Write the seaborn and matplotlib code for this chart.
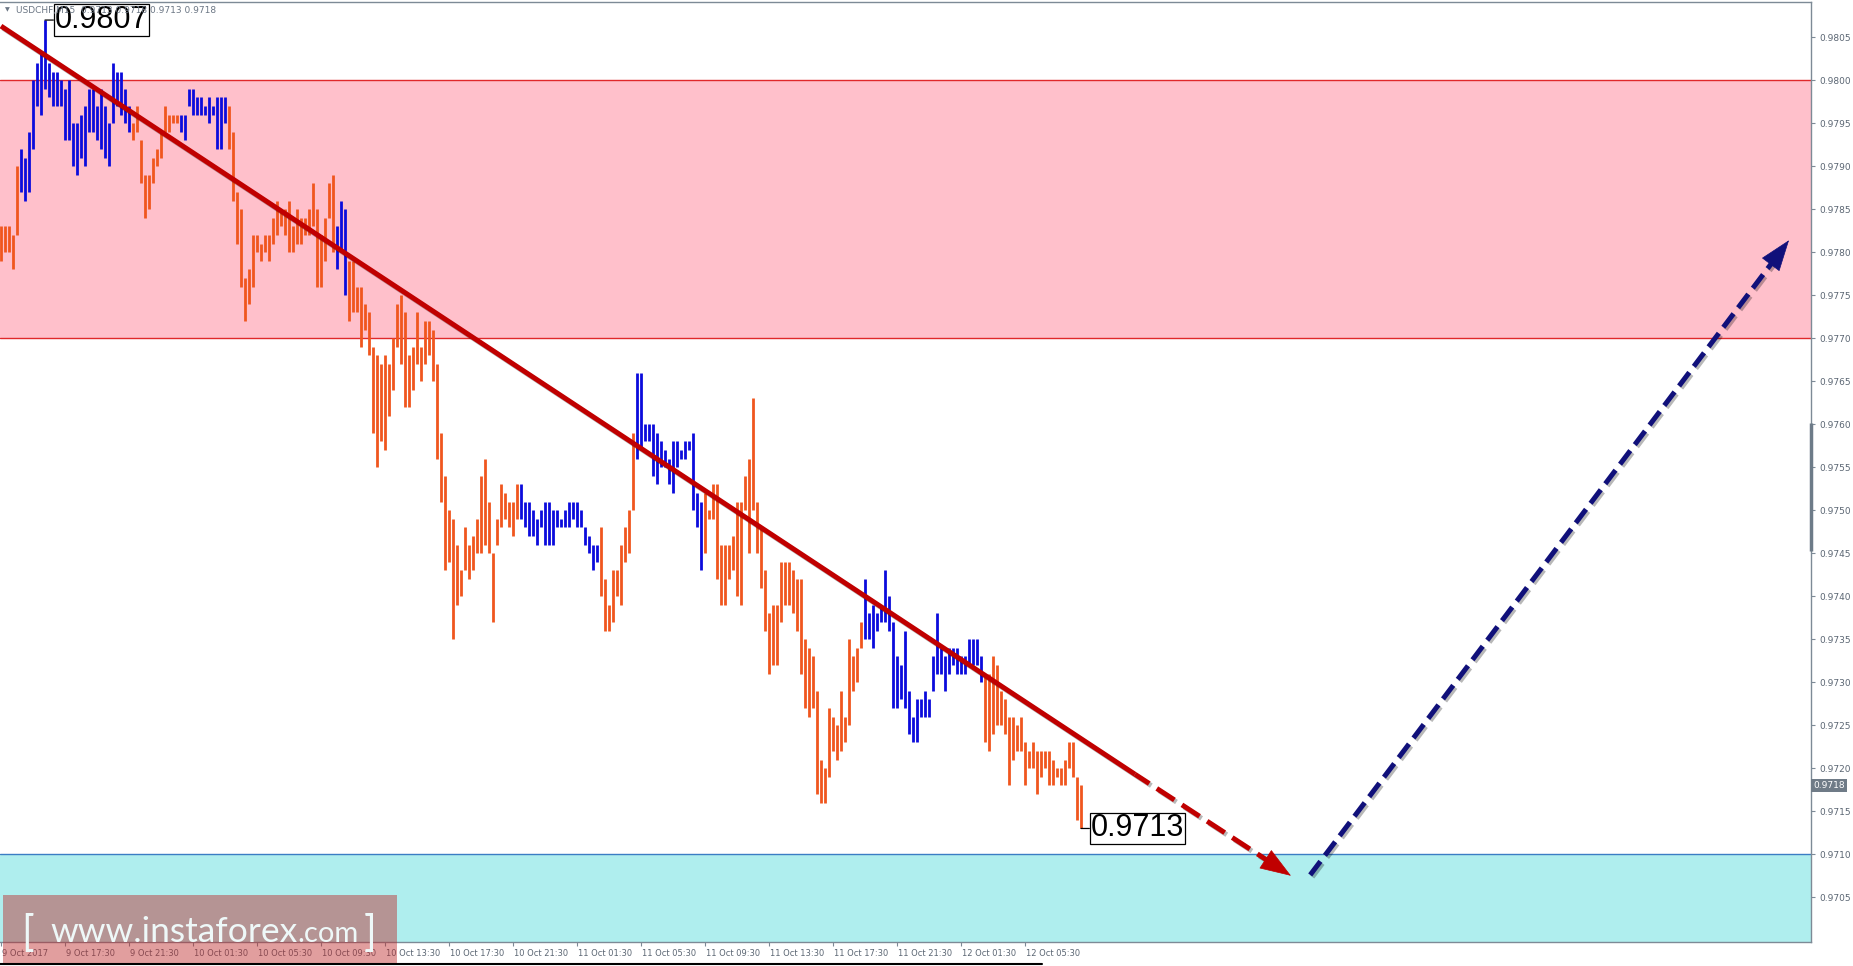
import numpy as np
import pandas as pd
import matplotlib
matplotlib.use("Agg")
import matplotlib.pyplot as plt
import matplotlib.patheffects as pe
import matplotlib.transforms as mtransforms
from matplotlib.patches import Rectangle
from matplotlib.lines import Line2D
import seaborn as sns

# ---------------- data ----------------
BASE = 0.9700
PIP = 0.0001

# M15 bar highs / lows, in pips above 0.9700
bar_high = [
    83, 83, 83, 82, 90, 92, 91, 94, 100, 102,
    103, 107, 102, 101, 101, 100, 99, 100, 95, 95,
    96, 97, 99, 99, 97, 99, 97, 95, 102, 101,
    101, 99, 97, 95, 97, 93, 89, 89, 91, 92,
    94, 97, 96, 96, 96, 96, 96, 99, 99, 98,
    98, 97, 98, 97, 98, 98, 98, 97, 94, 87,
    85, 77, 78, 82, 82, 81, 82, 82, 84, 86,
    85, 85, 86, 83, 85, 84, 84, 85, 88, 85,
    82, 84, 88, 89, 83, 86, 85, 79, 79, 76,
    76, 74, 73, 69, 68, 67, 68, 67, 70, 74,
    75, 73, 68, 69, 73, 69, 72, 72, 71, 67,
    59, 54, 50, 49, 46, 43, 48, 46, 47, 49,
    54, 56, 51, 45, 49, 53, 52, 51, 51, 53,
    53, 51, 51, 50, 49, 50, 51, 51, 50, 50,
    49, 50, 51, 51, 51, 50, 48, 47, 46, 46,
    48, 42, 39, 43, 43, 46, 48, 50, 59, 66,
    66, 60, 60, 60, 59, 58, 57, 56, 58, 58,
    57, 58, 58, 59, 52, 51, 52, 50, 53, 53,
    46, 46, 46, 47, 51, 51, 54, 56, 63, 51,
    48, 43, 38, 39, 39, 44, 44, 44, 43, 42,
    42, 35, 34, 33, 29, 21, 20, 27, 26, 25,
    29, 26, 35, 33, 34, 37, 42, 38, 39, 38,
    39, 43, 40, 37, 33, 32, 36, 29, 26, 28,
    28, 29, 28, 33, 38, 34, 33, 34, 34, 34,
    33, 33, 35, 35, 35, 33, 31, 31, 33, 32,
    29, 28, 26, 26, 25, 26, 23, 22, 23, 22,
    22, 22, 22, 21, 20, 20, 21, 23, 23, 19,
    18,
]
bar_low = [
    79, 80, 80, 78, 82, 87, 86, 87, 92, 97,
    96, 99, 98, 97, 97, 97, 93, 93, 90, 89,
    91, 90, 94, 94, 93, 92, 91, 90, 95, 97,
    96, 95, 94, 93, 94, 88, 84, 85, 88, 90,
    91, 94, 94, 95, 95, 94, 93, 97, 96, 96,
    96, 96, 95, 96, 92, 92, 95, 92, 86, 81,
    76, 72, 74, 76, 80, 79, 80, 79, 81, 82,
    83, 82, 80, 80, 81, 81, 82, 82, 83, 76,
    76, 79, 84, 80, 78, 80, 75, 72, 73, 73,
    69, 71, 68, 59, 55, 58, 57, 61, 64, 69,
    67, 62, 62, 64, 67, 65, 67, 68, 65, 56,
    51, 43, 44, 35, 39, 40, 43, 42, 43, 45,
    45, 46, 45, 37, 46, 48, 49, 48, 47, 49,
    49, 48, 47, 47, 46, 48, 46, 46, 46, 48,
    48, 48, 48, 49, 48, 48, 46, 45, 43, 44,
    40, 36, 36, 37, 40, 39, 44, 45, 50, 56,
    57, 58, 58, 54, 53, 55, 55, 53, 52, 55,
    56, 56, 57, 50, 48, 43, 45, 49, 49, 42,
    39, 39, 42, 43, 40, 39, 50, 45, 50, 45,
    41, 36, 31, 32, 32, 37, 39, 39, 38, 36,
    31, 27, 26, 27, 17, 16, 16, 19, 22, 21,
    22, 23, 25, 29, 30, 34, 35, 35, 34, 36,
    37, 37, 36, 27, 27, 28, 27, 24, 23, 23,
    26, 26, 26, 29, 31, 31, 29, 31, 32, 31,
    31, 31, 32, 32, 32, 30, 23, 22, 24, 25,
    25, 24, 18, 21, 22, 22, 18, 20, 20, 17,
    19, 20, 18, 18, 19, 18, 18, 20, 19, 14,
    13,
]
# wave colouring of the bars: (direction, number of bars)
wave_runs = [("down", 5), ("up", 28), ("down", 12), ("up", 12), ("down", 27),
             ("up", 3), ("down", 43), ("up", 20), ("down", 9), ("up", 17),
             ("down", 40), ("up", 30), ("down", 25)]

time_tick_bars = [0, 16, 32, 48, 64, 80, 96, 112, 128, 144, 160, 176, 192, 208, 224, 240, 256]
time_tick_labels = ["9 Oct 2017", "9 Oct 17:30", "9 Oct 21:30", "10 Oct 01:30", "10 Oct 05:30",
                    "10 Oct 09:30", "10 Oct 13:30", "10 Oct 17:30", "10 Oct 21:30", "11 Oct 01:30",
                    "11 Oct 05:30", "11 Oct 09:30", "11 Oct 13:30", "11 Oct 17:30", "11 Oct 21:30",
                    "12 Oct 01:30", "12 Oct 05:30"]
price_ticks = [0.9705, 0.9710, 0.9715, 0.9720, 0.9725, 0.9730, 0.9735, 0.9740, 0.9745, 0.9750,
               0.9755, 0.9760, 0.9765, 0.9770, 0.9775, 0.9780, 0.9785, 0.9790, 0.9795, 0.9800,
               0.9805]

resistance_zone = (0.9770, 0.9800)
support_top = 0.9710

trend_x = [0.0, 283.5]
trend_y = [0.98063, 0.97193]
trend_proj_x = [283.5, 322.5]
trend_proj_y = [0.97193, 0.97075]
forecast_x = [327.3, 447.0]
forecast_y = [0.97076, 0.97814]

high_label = (11, 0.9807, "0.9807")
low_label = (270, 0.9713, "0.9713")
last_price = 0.9718
scroll_mark = (0.97453, 0.97601)
title_text = "USDCHF,M15  0.9713 0.9718 0.9713 0.9718"

# ---------------- style ----------------
sns.set_theme(style="white")
plt.rcParams["font.family"] = ["DejaVu Sans"]

W, H = 1853, 966
fig = plt.figure(figsize=(W / 100, H / 100), dpi=100)
fig.patch.set_facecolor("white")
ax = fig.add_axes([0, 24 / H, 1811 / W, 940 / H])
ax.set_facecolor("white")

# bars as long-form data
wave = []
for d, n in wave_runs:
    wave += [d] * n
rows = []
for i, (h, l, w) in enumerate(zip(bar_high, bar_low, wave)):
    rows.append((i, BASE + l * PIP, w))
    rows.append((i, BASE + h * PIP, w))
df = pd.DataFrame(rows, columns=["bar", "price", "wave"])

ax.axhspan(resistance_zone[0], resistance_zone[1], color="#FFC0CB", zorder=0, lw=0)
ax.axhline(resistance_zone[0], color="#E0282A", lw=1.0, zorder=1)
ax.axhline(resistance_zone[1], color="#E0282A", lw=1.0, zorder=1)
ax.axhspan(0.9690, support_top, color="#AFEEEE", zorder=0, lw=0)
ax.axhline(support_top, color="#3B7DC4", lw=1.0, zorder=1)

sns.lineplot(data=df, x="bar", y="price", units="bar", estimator=None, hue="wave",
             palette={"up": "#0B0BDC", "down": "#F0561E"}, sort=False, legend=False,
             linewidth=2.0, solid_capstyle="butt", ax=ax, zorder=3)
ax.set_xlabel("")
ax.set_ylabel("")

ax.set_xlim(-0.25, 452.5)
ax.set_ylim(0.96998, 0.98091)

# axes / ticks
spine_col = "#7D8A96"
for s in ["top", "right", "bottom"]:
    ax.spines[s].set_visible(True)
    ax.spines[s].set_color(spine_col)
    ax.spines[s].set_linewidth(1.0)
ax.spines["left"].set_visible(False)
ax.yaxis.tick_right()
ax.set_yticks(price_ticks)
ax.set_yticklabels([f"{v:.4f}" for v in price_ticks])
ax.tick_params(axis="y", which="both", direction="out", length=3, width=0.8, colors=spine_col,
               labelcolor="#5B6673", labelsize=6.5, pad=3, left=False, right=True)
ax.set_xticks(time_tick_bars)
ax.set_xticklabels(time_tick_labels, ha="left")
ax.tick_params(axis="x", direction="out", length=3, width=0.8, colors=spine_col,
               labelcolor="#5B6673", labelsize=6, pad=2, bottom=True)
shift = mtransforms.ScaledTranslation(1.5 / 100, 0, fig.dpi_scale_trans)
for lab in ax.get_xticklabels():
    lab.set_transform(lab.get_transform() + shift)
ax.grid(False)

blend = mtransforms.blended_transform_factory(ax.transAxes, ax.transData)
ax.plot([1, 1], list(scroll_mark), transform=blend, color="#6D7B88", lw=2.5,
        clip_on=False, solid_capstyle="butt", zorder=5)

# ---------------- wave lines ----------------
shadow = [pe.SimpleLineShadow(offset=(1.5, -1.5), shadow_color="black", alpha=0.28), pe.Normal()]
red = "#C00000"
navy = "#10107A"


def head_base(tip, prev, length_px):
    T = ax.transData
    tp = T.transform(tip)
    pp = T.transform(prev)
    d = tp - pp
    d = d / np.hypot(*d)
    return T.inverted().transform(tp - d * length_px)


def draw_head(tip, base, color):
    ax.annotate("", xy=tip, xytext=base, zorder=6,
                arrowprops=dict(arrowstyle="-|>,head_length=21,head_width=7.5",
                                mutation_scale=1, color=color, lw=0.5,
                                shrinkA=0, shrinkB=0))


ax.plot(trend_x, trend_y, color=red, lw=3.6, solid_capstyle="butt", zorder=5, path_effects=shadow)
red_tip = (trend_proj_x[1], trend_proj_y[1])
red_base = head_base(red_tip, (trend_proj_x[0], trend_proj_y[0]), 28)
ax.plot([trend_proj_x[0], red_base[0]], [trend_proj_y[0], red_base[1]], color=red, lw=3.6,
        linestyle=(0.8, (4.2, 1.8)), dash_capstyle="butt", zorder=5, path_effects=shadow)
draw_head(red_tip, red_base, red)

blue_tip = (forecast_x[1], forecast_y[1])
blue_base = head_base(blue_tip, (forecast_x[0], forecast_y[0]), 28)
ax.plot([forecast_x[0], blue_base[0]], [forecast_y[0], blue_base[1]], color=navy, lw=3.6,
        linestyle=(0, (3.4, 1.5)), dash_capstyle="butt", zorder=5, path_effects=shadow)
draw_head(blue_tip, blue_base, navy)

# ---------------- price labels ----------------
for bx, by, txt in [high_label, low_label]:
    ax.annotate(txt, xy=(bx, by), xytext=(7, 0), textcoords="offset points",
                ha="left", va="center", fontsize=22, family="Liberation Sans", color="black",
                bbox=dict(boxstyle="square,pad=0.03", fc="white", ec="black", lw=0.9),
                arrowprops=dict(arrowstyle="-", color="black", lw=0.9, shrinkA=0, shrinkB=0),
                zorder=7, annotation_clip=False)

ax.annotate(f"{last_price:.4f}", xy=(1.0, last_price), xycoords=blend, xytext=(1.5, 0),
            textcoords="offset points", ha="left", va="center", fontsize=6.5, color="white",
            bbox=dict(boxstyle="square,pad=0.25", fc="#6F7B87", ec="none"),
            annotation_clip=False, zorder=8)

# title
fig.text(5 / W, 1 - 10 / H, "▼", fontsize=4.5, color="#6B7684", va="center", zorder=20)
fig.text(16 / W, 1 - 10 / H, title_text, fontsize=6.5, color="#6B7684", va="center", zorder=20)

# ---------------- watermark ----------------
fig.add_artist(Rectangle((3 / W, 3 / H), 394 / W, 68 / H, transform=fig.transFigure,
                         fc=(0.745, 0.157, 0.157, 0.45), ec="none", zorder=10))
wm_col = "#EEF8F8"
wm_font = dict(family=["Lato", "DejaVu Sans"], weight="normal")
fig.canvas.draw()
renderer = fig.canvas.get_renderer()
base_y = 1 - 942 / H
fig.text(21 / W, 1 - 946 / H, "[", fontsize=30, color=wm_col, va="baseline",
         zorder=11, **wm_font)
t2 = fig.text(50 / W, base_y, "www.instaforex", fontsize=25.5, color=wm_col, va="baseline",
              zorder=11, **wm_font)
ext = t2.get_window_extent(renderer)
fig.text(ext.x1 / W, base_y, ".com", fontsize=21, color=wm_col, va="baseline",
         zorder=11, **wm_font)
fig.text(364 / W, 1 - 946 / H, "]", fontsize=30, color=wm_col, va="baseline",
         zorder=11, **wm_font)

fig.add_artist(Line2D([0, 1042 / W], [1 - 964 / H] * 2, color="black", lw=1.5,
                      transform=fig.transFigure, zorder=12))

fig.savefig("out.png", dpi=100)
